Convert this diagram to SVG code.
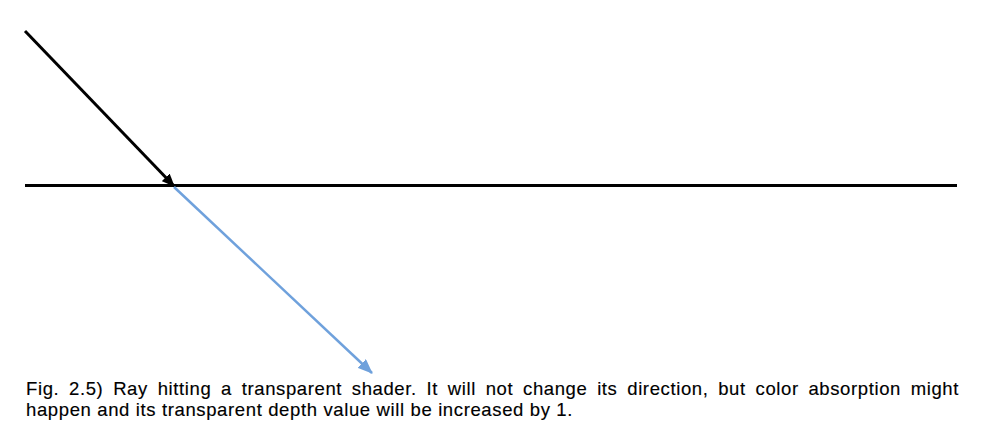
<svg xmlns="http://www.w3.org/2000/svg" width="1000" height="446" viewBox="0 0 1000 446">
<style>
.cap{font-family:"Liberation Sans",Arial,sans-serif;font-size:18.5px;fill:#000;stroke:#000;stroke-width:0.15px;letter-spacing:0.6px}
</style>
<defs>
<marker id="ahB" markerWidth="13" markerHeight="11" refX="12" refY="5.5" orient="auto" markerUnits="userSpaceOnUse" viewBox="0 0 13 11">
<path d="M0,0 L13,5.5 L0,11 z" fill="#000"/>
</marker>
<marker id="ahL" markerWidth="15" markerHeight="12" refX="14" refY="6" orient="auto" markerUnits="userSpaceOnUse" viewBox="0 0 15 12">
<path d="M0,0 L15,6 L0,12 z" fill="#6FA1DC"/>
</marker>
</defs>
<rect width="1000" height="446" fill="#fff"/>
<g id="surface">
<line x1="25" y1="185.5" x2="957" y2="185.5" stroke="#000" stroke-width="3"/>
</g>
<g id="connectors">
<line x1="25" y1="31" x2="174" y2="186" stroke="#000" stroke-width="3" marker-end="url(#ahB)"/>
<line x1="174" y1="187" x2="372" y2="373" stroke="#6FA1DC" stroke-width="2.5" marker-end="url(#ahL)"/>
</g>
<g id="caption">
<text class="cap" x="26" y="394.5" textLength="933" lengthAdjust="spacing" style="word-spacing:4px">Fig. 2.5) Ray hitting a transparent shader. It will not change its direction, but color absorption might</text>
<text class="cap" x="26" y="415.5" textLength="547" lengthAdjust="spacing">happen and its transparent depth value will be increased by 1.</text>
</g>
</svg>
